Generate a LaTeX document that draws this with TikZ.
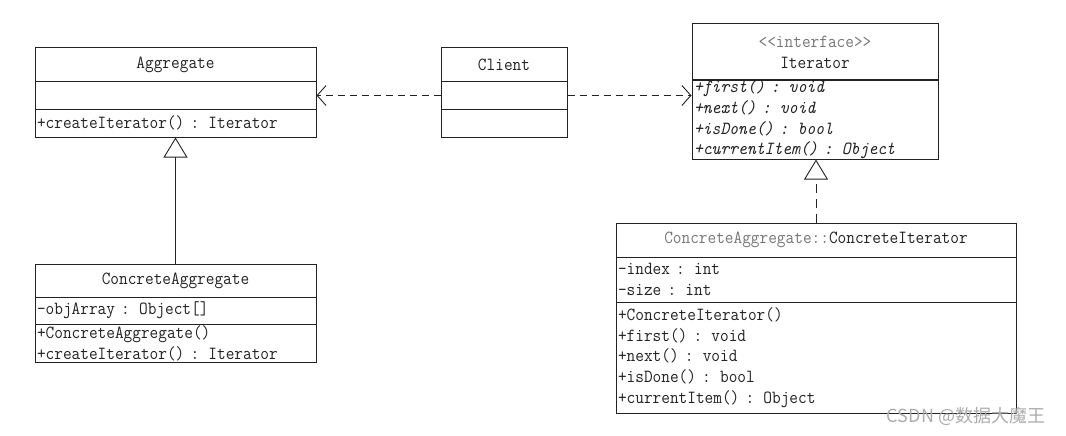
\documentclass[tikz,border=0pt]{standalone}
\usepackage{fontspec}
\newfontfamily\cjk{Noto Sans CJK SC}
\newfontfamily\umlmono[FakeStretch=0.91]{Latin Modern Mono}
\usetikzlibrary{arrows.meta}

\definecolor{umlline}{HTML}{222222}
\definecolor{umltext}{HTML}{222222}
\definecolor{umlgray}{HTML}{777777}

\newcommand\umlfont{\umlmono\fontsize{18.5}{20.7}\selectfont}

\tikzset{
    part/.style={draw=umlline, line width=1pt, inner xsep=2pt, inner ysep=0pt,
        font=\umlfont, text=umltext},
    title/.style={part, align=center},
    body/.style={part, align=left},
    dep/.style={-{Straight Barb[length=9pt, width=20pt]}, line width=0.9pt,
        umlline, dash pattern=on 7pt off 5pt},
    inh/.style={-{Triangle[open, length=20pt, width=24pt]}, line width=0.9pt, umlline}
}

\begin{document}
\begin{tikzpicture}[x=1pt, y=-1pt]
    \fill[white] (0,0) rectangle (1066,436);
    \useasboundingbox (0,0) rectangle (1066,436);

    % Aggregate
    \node[title, minimum width=281pt, minimum height=34pt] (aggname) at (175.5,65) {Aggregate};
    \node[body, minimum width=281pt, minimum height=27pt, text width=277pt] (aggattr) at (175.5,95.5) {};
    \node[body, minimum width=281pt, minimum height=28pt, text width=277pt] (aggops) at (175.5,123) {+createIterator() : Iterator};

    % Client
    \node[title, minimum width=126pt, minimum height=34pt] (cliname) at (504,65) {Client};
    \node[body, minimum width=126pt, minimum height=27pt, text width=122pt] (cliattr) at (504,95.5) {};
    \node[body, minimum width=126pt, minimum height=28pt, text width=122pt] (cliops) at (504,123) {};

    % Iterator (interface)
    \node[title, minimum width=246pt, minimum height=57pt] (itername) at (815,52.5)
        {\textcolor{umlgray}{<<interface>>}\\Iterator};
    \node[body, minimum width=246pt, minimum height=77pt, text width=242pt] (iterops) at (815,119.5)
        {\itshape +first() : void\\+next() : void\\+isDone() : bool\\+currentItem() : Object};

    % ConcreteAggregate
    \node[title, minimum width=281pt, minimum height=33pt] (caname) at (175.5,280.5) {ConcreteAggregate};
    \node[body, minimum width=281pt, minimum height=27pt, text width=277pt] (caattr) at (175.5,310.5) {-objArray : Object[]};
    \node[body, minimum width=281pt, minimum height=38pt, text width=277pt] (caops) at (175.5,343)
        {+ConcreteAggregate()\\+createIterator() : Iterator};

    % ConcreteIterator
    \node[title, minimum width=400pt, minimum height=34pt] (ciname) at (816,240)
        {\textcolor{umlgray}{ConcreteAggregate::}ConcreteIterator};
    \node[body, minimum width=400pt, minimum height=45pt, text width=396pt] (ciattr) at (816,279.5)
        {-index : int\\-size : int};
    \node[body, minimum width=400pt, minimum height=111pt, text width=396pt] (ciops) at (816,357.5)
        {+ConcreteIterator()\\+first() : void\\+next() : void\\+isDone() : bool\\+currentItem() : Object};

    % Dependencies
    \draw[dep] (cliattr.west) -- (aggattr.east);
    \draw[dep] (cliattr.east) -- (cliattr.east -| iterops.west);

    % Generalization / realization
    \draw[inh] (caname.north) -- (aggops.south);
    \draw[inh, dash pattern=on 9pt off 6pt] (ciname.north) -- (ciname.north |- iterops.south);

    % watermark
    \node[text=gray!65, font=\cjk\fontsize{18}{20}\selectfont] (mark) at (966,416) {CSDN @数据大魔王};
\end{tikzpicture}
\end{document}
